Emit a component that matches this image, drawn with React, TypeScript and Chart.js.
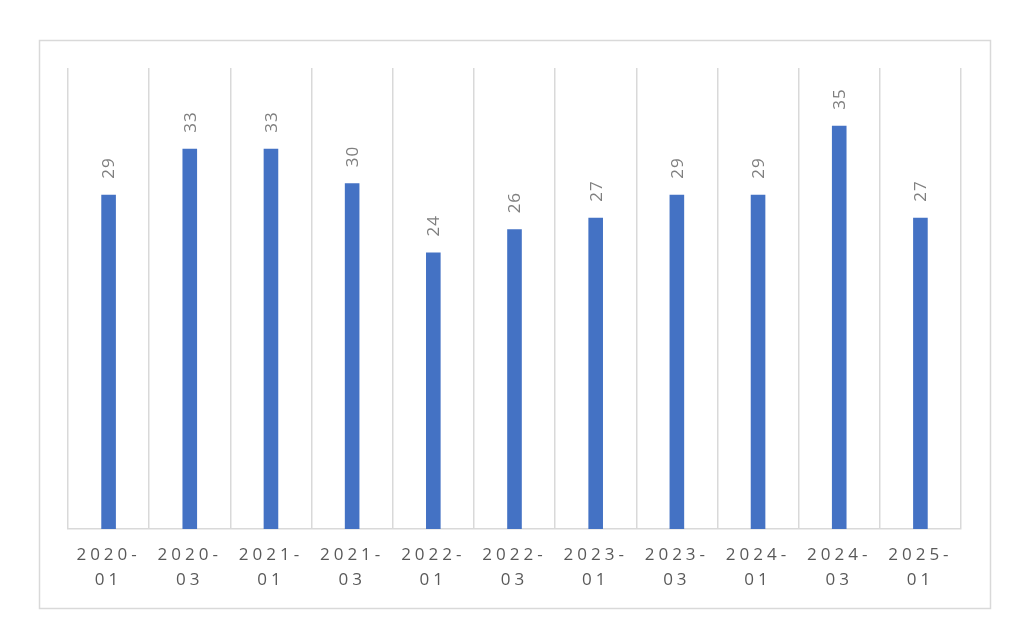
import React, { useEffect, useRef } from "react";
import { Chart, registerables } from "chart.js";

Chart.register(...registerables);

const categories = ["2020-01", "2020-03", "2021-01", "2021-03", "2022-01", "2022-03", "2023-01", "2023-03", "2024-01", "2024-03", "2025-01"];
const values = [29, 33, 33, 30, 24, 26, 27, 29, 29, 35, 27];

const frame = {
  id: "frame",
  beforeDraw(chart: any) {
    const ctx = chart.ctx;
    ctx.save();
    ctx.fillStyle = "#ffffff";
    ctx.fillRect(0, 0, chart.width, chart.height);
    ctx.strokeStyle = "#d9d9d9";
    ctx.lineWidth = 1.5;
    ctx.strokeRect(39.5, 40.5, 951, 568);
    ctx.restore();
    ctx.letterSpacing = "4px";
  },
  beforeDatasetsDraw(chart: any) {
    chart.ctx.letterSpacing = "0px";
  },
  afterDatasetsDraw(chart: any) {
    const ctx = chart.ctx;
    const meta = chart.getDatasetMeta(0);
    ctx.save();
    ctx.letterSpacing = "1px";
    ctx.font = "17px 'Open Sans'";
    ctx.fillStyle = "#7f7f7f";
    ctx.textAlign = "left";
    ctx.textBaseline = "middle";
    meta.data.forEach((bar: any, i: number) => {
      ctx.save();
      ctx.translate(bar.x + 1, bar.y - 16);
      ctx.rotate(-Math.PI / 2);
      ctx.fillText(String(values[i]), 0, 0);
      ctx.restore();
    });
    ctx.restore();
  },
};

export default function App() {
  const ref = useRef<HTMLCanvasElement>(null);
  useEffect(() => {
    document.body.style.margin = "0";
    const chart = new Chart(ref.current!, {
      type: "bar",
      data: {
        labels: categories,
        datasets: [
          {
            data: values,
            backgroundColor: "#4472c4",
            barPercentage: 0.18,
            categoryPercentage: 1,
          },
        ],
      },
      options: {
        animation: false,
        responsive: false,
        layout: { padding: { left: 68, right: 63, top: 68, bottom: 31 } },
        plugins: { legend: { display: false }, tooltip: { enabled: false } },
        scales: {
          x: {
            grid: { color: "#d9d9d9", lineWidth: 1.5, drawTicks: false, offset: true },
            border: { color: "#d9d9d9", width: 1.5 },
            ticks: {
              color: "#595959",
              font: { family: "'Open Sans'", size: 17, lineHeight: 1.47 },
              padding: 14,
              maxRotation: 0,
              autoSkip: false,
              callback: (v: any, i: number) => {
                const s = categories[i];
                const p = s.split("-");
                return [p[0] + "-", p[1]];
              },
            },
          },
          y: { display: false, min: 0, max: 40 },
        },
      },
      plugins: [frame],
    });
    return () => chart.destroy();
  }, []);
  return (
    <div style={{ width: 1024, height: 638 }}>
      <canvas ref={ref} width={1024} height={638} style={{ display: "block" }} />
    </div>
  );
}
